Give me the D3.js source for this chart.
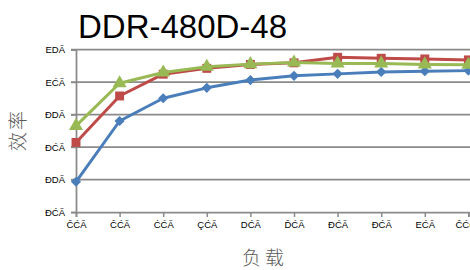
<html>
<head>
  <meta charset="utf-8">
  <script src="https://d3js.org/d3.v7.min.js"></script>
  <style>
    html, body { margin:0; padding:0; overflow:hidden; background:white }
  </style>
</head>
<body>
<div class="chart"></div>
<script>
  var WIDTH = 470, HEIGHT = 270;

  // categories on the load axis (garbled labels as in the picture)
  var categories = ["ČĆÃ", "ČĆÃ", "ĊĆÃ", "ÇĆÃ", "DĆÃ", "ĎĆÃ", "ĐĆÃ", "ĐĆÃ", "EĆÃ", "ČĆĆÃ"];
  // efficiency tick labels, bottom to top
  var yTickLabels = ["ĐĆÃ", "ĐDÃ", "ĐĆÃ", "ĐDÃ", "EĆÃ", "EDÃ"];

  // series values, in tick units (0 = bottom gridline, 5 = top gridline)
  var blueValues  = [0.93, 2.80, 3.50, 3.82, 4.06, 4.19, 4.25, 4.31, 4.33, 4.35];
  var redValues   = [2.14, 3.57, 4.24, 4.42, 4.54, 4.59, 4.76, 4.73, 4.71, 4.68];
  var greenValues = [2.65, 3.96, 4.29, 4.47, 4.55, 4.60, 4.57, 4.57, 4.54, 4.53];

  var svg = d3.select("div.chart").append("svg")
      .attr("width", WIDTH)
      .attr("height", HEIGHT);

  var x = d3.scalePoint()
      .domain(d3.range(categories.length))
      .range([76, 468.4]);

  var y = d3.scaleLinear()
      .domain([0, 5])
      .range([212, 49.5]);

  // title
  svg.append("text")
      .attr("x", 78).attr("y", 38)
      .attr("font-family", "Liberation Sans, Arial, sans-serif")
      .attr("font-size", 33)
      .attr("fill", "#000")
      .text("DDR-480D-48");

  // gridlines
  svg.append("g").selectAll("line")
      .data(d3.range(1, 6))
      .enter().append("line")
      .attr("x1", 71).attr("x2", WIDTH)
      .attr("y1", function(d) { return y(d); })
      .attr("y2", function(d) { return y(d); })
      .attr("stroke", "#8a8a8a")
      .attr("stroke-width", 1.75);

  // y axis
  var yAxis = d3.axisLeft(y)
      .tickValues(d3.range(0, 6))
      .tickFormat(function(d) { return yTickLabels[d]; })
      .tickSize(5)
      .tickPadding(6);
  var gy = svg.append("g").attr("transform", "translate(76,0)").call(yAxis);

  // x axis
  var xAxis = d3.axisBottom(x)
      .tickFormat(function(d) { return categories[d]; })
      .tickSize(5)
      .tickPadding(4);
  var gx = svg.append("g").attr("transform", "translate(0,212)").call(xAxis);

  [gx, gy].forEach(function(g) {
    g.select(".domain").attr("stroke", "#8a8a8a").attr("stroke-width", 1.75);
    g.selectAll(".tick line").attr("stroke", "#8a8a8a").attr("stroke-width", 1.5);
    g.selectAll(".tick text")
      .attr("font-family", "Liberation Sans, Arial, sans-serif")
      .attr("font-size", 9.5)
      .attr("fill", "#000");
  });

  // axis titles
  svg.append("text")
      .attr("transform", "translate(25,130) rotate(-90)")
      .attr("text-anchor", "middle")
      .attr("font-family", "Noto Sans CJK SC")
      .attr("font-size", 19)
      .attr("font-weight", 300)
      .attr("letter-spacing", 2)
      .attr("fill", "#595959")
      .text("效率");

  svg.append("text")
      .attr("x", 265).attr("y", 265)
      .attr("text-anchor", "middle")
      .attr("font-family", "Noto Sans CJK SC")
      .attr("font-size", 19)
      .attr("font-weight", 300)
      .attr("letter-spacing", 4)
      .attr("fill", "#595959")
      .text("负载");

  var line = d3.line()
      .x(function(d, i) { return x(i); })
      .y(function(d) { return y(d); });

  var series = [
    { values: blueValues,  color: "#4a7ebb", symbol: d3.symbolSquare,   size: 52, rotate: 45 },
    { values: redValues,   color: "#be4b48", symbol: d3.symbolSquare,   size: 80, rotate: 0 },
    { values: greenValues, color: "#98b954", symbol: d3.symbolTriangle, size: 85, rotate: 0 }
  ];

  series.forEach(function(s) {
    svg.append("path")
        .datum(s.values)
        .attr("d", line)
        .attr("fill", "none")
        .attr("stroke", s.color)
        .attr("stroke-width", 3)
        .attr("stroke-linejoin", "round");

    svg.append("g").selectAll("path")
        .data(s.values)
        .enter().append("path")
        .attr("transform", function(d, i) {
          return "translate(" + x(i) + "," + y(d) + ") rotate(" + s.rotate + ")";
        })
        .attr("d", d3.symbol().type(s.symbol).size(s.size))
        .attr("fill", s.color);
  });
</script>
</body>
</html>
